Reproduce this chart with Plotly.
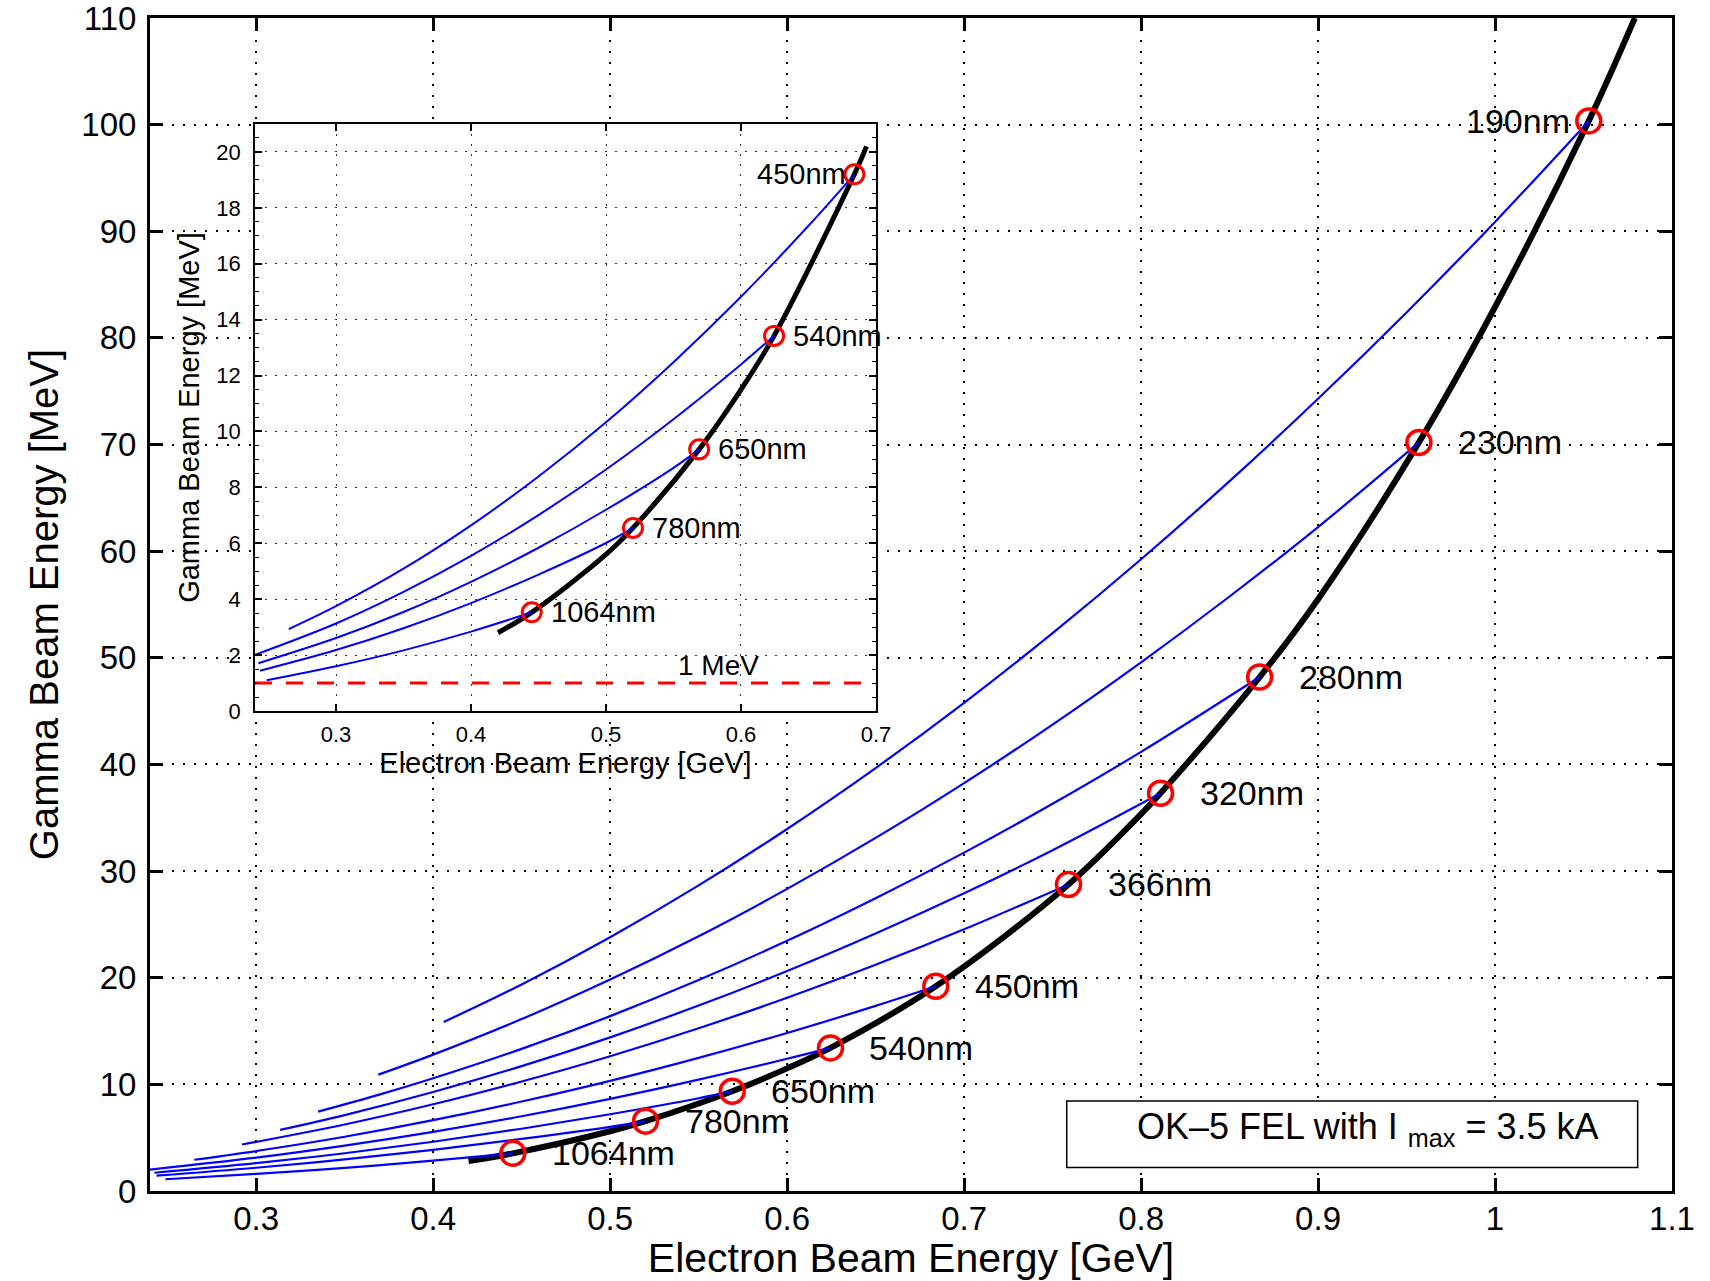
import plotly.graph_objects as go

# ---------------- data ----------------
# thick black curve (main plot)
black_x = [0.42, 0.445, 0.5, 0.52, 0.569, 0.6, 0.6245, 0.684, 0.759, 0.8, 0.811, 0.867, 0.9, 0.957, 1.0, 1.053, 1.079]
black_y = [2.8, 3.53, 5.6, 6.55, 9.36, 11.5, 13.42, 19.2, 28.75, 35.35, 37.3, 48.2, 55.5, 70.2, 82.9, 100.35, 110.0]

# thick black curve (inset)
inset_black_x = [0.42, 0.445, 0.5, 0.52, 0.569, 0.6, 0.6245, 0.684, 0.693]
inset_black_y = [2.8, 3.53, 5.6, 6.55, 9.36, 11.5, 13.42, 19.2, 20.2]

# blue curves, one per laser wavelength
x_190 = [0.406, 0.45, 0.5, 0.55, 0.6, 0.65, 0.7, 0.75, 0.8, 0.85, 0.9, 0.95, 1.0, 1.053]
y_190 = [15.85, 19.37, 23.80, 28.66, 33.95, 39.66, 45.78, 52.31, 59.24, 66.57, 74.29, 82.39, 90.88, 100.35]
x_230 = [0.369, 0.4, 0.45, 0.5, 0.55, 0.6, 0.65, 0.7, 0.75, 0.8, 0.85, 0.9, 0.957]
y_230 = [10.91, 12.79, 16.12, 19.83, 23.89, 28.33, 33.11, 38.25, 43.74, 49.58, 55.75, 62.26, 70.2]
x_280 = [0.335, 0.37, 0.4, 0.45, 0.5, 0.55, 0.6, 0.65, 0.7, 0.75, 0.8, 0.867]
y_280 = [7.44, 9.06, 10.57, 13.33, 16.40, 19.78, 23.46, 27.45, 31.73, 36.31, 41.18, 48.2]
x_320 = [0.3135, 0.35, 0.4, 0.45, 0.5, 0.55, 0.6, 0.65, 0.7, 0.75, 0.811]
y_320 = [5.73, 7.12, 9.28, 11.71, 14.41, 17.39, 20.63, 24.15, 27.92, 31.96, 37.3]
x_366 = [0.292, 0.35, 0.4, 0.45, 0.5, 0.55, 0.6, 0.65, 0.7, 0.759]
y_366 = [4.36, 6.24, 8.13, 10.27, 12.64, 15.26, 18.12, 21.21, 24.54, 28.75]
x_450 = [0.265, 0.3, 0.35, 0.4, 0.45, 0.5, 0.55, 0.6, 0.65, 0.684]
y_450 = [2.93, 3.75, 5.09, 6.64, 8.39, 10.33, 12.48, 14.82, 17.36, 19.2]
x_540 = [0.24, 0.3, 0.35, 0.4, 0.45, 0.5, 0.55, 0.6, 0.6245]
y_540 = [2.01, 3.13, 4.26, 5.55, 7.01, 8.64, 10.44, 12.40, 13.42]
x_650 = [0.2425, 0.3, 0.35, 0.4, 0.45, 0.5, 0.55, 0.569]
y_650 = [1.71, 2.61, 3.54, 4.62, 5.84, 7.20, 8.70, 9.36]
x_780 = [0.2437, 0.3, 0.35, 0.4, 0.45, 0.5, 0.52]
y_780 = [1.44, 2.18, 2.96, 3.86, 4.88, 6.01, 6.55]
x_1064 = [0.2487, 0.3, 0.35, 0.4, 0.445]
y_1064 = [1.10, 1.60, 2.17, 2.84, 3.53]

# red circles (operating points) and their labels
circle_labels = ["1064nm", "780nm", "650nm", "540nm", "450nm", "366nm", "320nm", "280nm", "230nm", "190nm"]
circle_x = [0.445, 0.52, 0.569, 0.6245, 0.684, 0.759, 0.811, 0.867, 0.957, 1.053]
circle_y = [3.53, 6.55, 9.36, 13.42, 19.2, 28.75, 37.3, 48.2, 70.2, 100.35]

# inset: subset of wavelengths
inset_labels = ["1064nm", "780nm", "650nm", "540nm", "450nm"]

# 1 MeV reference line in the inset
mev_line_x = [0.24, 0.69]
mev_line_y = [1.0, 1.0]

# tick labels
main_xticks = [0.3, 0.4, 0.5, 0.6, 0.7, 0.8, 0.9, 1.0, 1.1]
main_xticktext = ["0.3", "0.4", "0.5", "0.6", "0.7", "0.8", "0.9", "1", "1.1"]
main_yticks = [0, 10, 20, 30, 40, 50, 60, 70, 80, 90, 100, 110]
inset_xticks = [0.3, 0.4, 0.5, 0.6, 0.7]
inset_yticks = [0, 2, 4, 6, 8, 10, 12, 14, 16, 18, 20]

curves = {
    "190nm": (x_190, y_190), "230nm": (x_230, y_230), "280nm": (x_280, y_280),
    "320nm": (x_320, y_320), "366nm": (x_366, y_366), "450nm": (x_450, y_450),
    "540nm": (x_540, y_540), "650nm": (x_650, y_650), "780nm": (x_780, y_780),
    "1064nm": (x_1064, y_1064),
}

FONT = "Liberation Sans, Arial, Helvetica, sans-serif"
BLUE = "#0000ff"
RED = "#ff0000"

fig = go.Figure()

# ---------------- main plot ----------------
fig.add_trace(go.Scatter(x=black_x, y=black_y, mode="lines", line=dict(color="black", width=6, shape="spline"),
                         xaxis="x", yaxis="y", hoverinfo="skip"))
for name, (cx, cy) in curves.items():
    fig.add_trace(go.Scatter(x=cx, y=cy, mode="lines", line=dict(color=BLUE, width=2.2, shape="spline"),
                             xaxis="x", yaxis="y", name=name))
fig.add_trace(go.Scatter(x=circle_x, y=circle_y, mode="markers",
                         marker=dict(symbol="circle-open", size=24, color=RED, line=dict(width=3.5, color=RED)),
                         xaxis="x", yaxis="y"))

# ---------------- inset ----------------
fig.add_trace(go.Scatter(x=mev_line_x, y=mev_line_y, mode="lines",
                         line=dict(color=RED, width=3, dash="17px,14px"), xaxis="x2", yaxis="y2"))
fig.add_trace(go.Scatter(x=inset_black_x, y=inset_black_y, mode="lines",
                         line=dict(color="black", width=5, shape="spline"), xaxis="x2", yaxis="y2"))
for name in inset_labels:
    cx, cy = curves[name]
    fig.add_trace(go.Scatter(x=cx, y=cy, mode="lines", line=dict(color=BLUE, width=2, shape="spline"),
                             xaxis="x2", yaxis="y2", name=name))
ins_cx = [circle_x[circle_labels.index(n)] for n in inset_labels]
ins_cy = [circle_y[circle_labels.index(n)] for n in inset_labels]
fig.add_trace(go.Scatter(x=ins_cx, y=ins_cy, mode="markers",
                         marker=dict(symbol="circle-open", size=19, color=RED, line=dict(width=3, color=RED)),
                         xaxis="x2", yaxis="y2"))

annotations = []
for lab, cx, cy in zip(circle_labels, circle_x, circle_y):
    if lab == "190nm":
        annotations.append(dict(x=cx, y=cy, xref="x", yref="y", text=lab, showarrow=False,
                                xanchor="right", yanchor="middle", xshift=-17,
                                font=dict(family=FONT, size=34, color="black")))
    else:
        annotations.append(dict(x=cx, y=cy, xref="x", yref="y", text=lab, showarrow=False,
                                xanchor="left", yanchor="middle", xshift=37,
                                font=dict(family=FONT, size=34, color="black")))
for lab, cx, cy in zip(inset_labels, ins_cx, ins_cy):
    if lab == "450nm":
        annotations.append(dict(x=cx, y=cy, xref="x2", yref="y2", text=lab, showarrow=False,
                                xanchor="right", yanchor="middle", xshift=-6,
                                font=dict(family=FONT, size=29, color="black")))
    else:
        annotations.append(dict(x=cx, y=cy, xref="x2", yref="y2", text=lab, showarrow=False,
                                xanchor="left", yanchor="middle", xshift=17,
                                font=dict(family=FONT, size=29, color="black")))
annotations.append(dict(x=0.583, y=1.62, xref="x2", yref="y2", text="1 MeV", showarrow=False,
                        xanchor="center", yanchor="middle", font=dict(family=FONT, size=28, color="black")))
annotations.append(dict(x=0.928, y=5.8, xref="x", yref="y",
                        text="OK\u20135 FEL with I <sub>max</sub> = 3.5 kA", showarrow=False,
                        xanchor="center", yanchor="middle", font=dict(family=FONT, size=36, color="black")))

main_axis = dict(showline=True, linewidth=3, linecolor="black", mirror="ticks",
                 ticks="inside", ticklen=13, tickwidth=3, tickcolor="black",
                 showgrid=True, gridcolor="black", gridwidth=1.5, griddash="2px,9px",
                 zeroline=False, ticklabeloverflow="allow",
                 tickfont=dict(family=FONT, size=33, color="black"))
inset_axis = dict(showline=True, linewidth=1.5, linecolor="black", mirror="ticks",
                  ticks="inside", ticklen=7, tickwidth=1.5, tickcolor="black",
                  showgrid=True, gridcolor="#333333", gridwidth=1, griddash="2px,8px",
                  zeroline=False, ticklabeloverflow="allow",
                  tickfont=dict(family=FONT, size=22, color="black"))

fig.update_layout(
    width=1710, height=1281,
    margin=dict(l=150, r=38, t=18, b=90, autoexpand=False),
    paper_bgcolor="white", plot_bgcolor="white",
    showlegend=False,
    xaxis=dict(main_axis, domain=[0, 1], range=[0.24, 1.1], tickvals=main_xticks, ticktext=main_xticktext,
               anchor="y", ticklabelstandoff=-4,
               title=dict(text="Electron Beam Energy [GeV]", font=dict(family=FONT, size=41, color="black"), standoff=14)),
    yaxis=dict(main_axis, domain=[0, 1], range=[0, 110], tickvals=main_yticks, anchor="x", ticklabelstandoff=4,
               title=dict(text="Gamma Beam Energy [MeV]", font=dict(family=FONT, size=40, color="black"), standoff=11)),
    xaxis2=dict(inset_axis, domain=[0.06899, 0.47700], range=[0.24, 0.7], tickvals=inset_xticks, anchor="y2",
                ticklabelstandoff=3,
                title=dict(text="Electron Beam Energy [GeV]", font=dict(family=FONT, size=29, color="black"), standoff=3)),
    yaxis2=dict(inset_axis, domain=[0.40921, 0.90963], range=[0, 21], tickvals=inset_yticks, anchor="x2",
                ticklabelstandoff=8,
                minor=dict(ticks="inside", ticklen=4, tickwidth=1, dtick=0.5, tickcolor="black", showgrid=False),
                title=dict(text="Gamma Beam Energy [MeV]", font=dict(family=FONT, size=29, color="black"), standoff=8)),
    annotations=annotations,
    shapes=[dict(type="rect", xref="x", yref="y", x0=0.758, x1=1.0806, y0=2.2, y1=8.44,
                 line=dict(color="black", width=1.5), fillcolor="white", layer="above")],
)

fig.write_html("out.html")
